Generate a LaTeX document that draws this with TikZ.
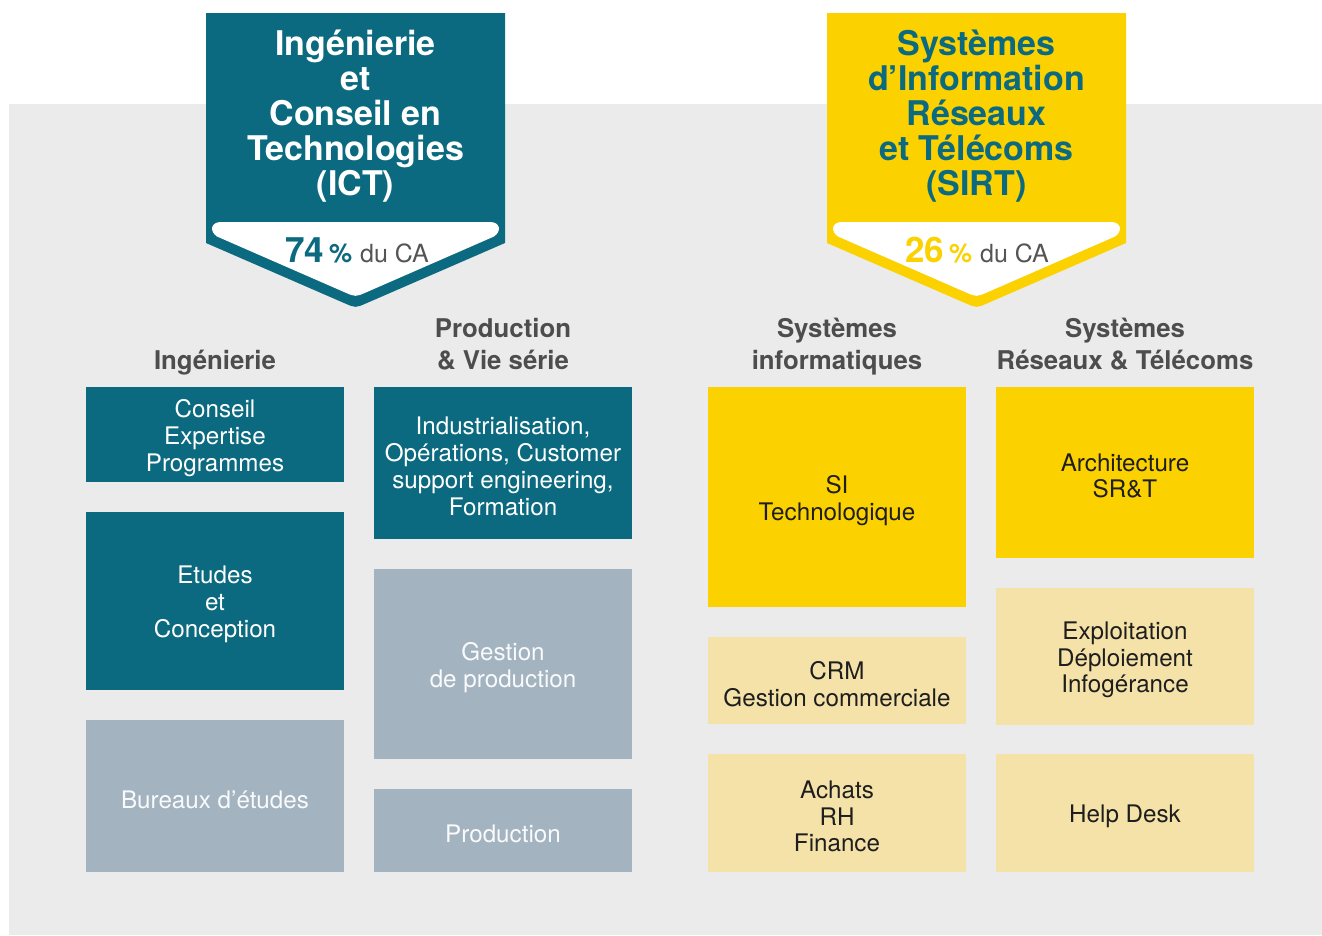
\documentclass[tikz,border=0pt]{standalone}
\usepackage{fontspec}
\setmainfont{TeX Gyre Heros}
\definecolor{ictteal}{HTML}{0B6A7F}
\definecolor{sirtyel}{HTML}{FCD100}
\definecolor{lightyel}{HTML}{F4E2A8}
\definecolor{grayblue}{HTML}{A3B3C0}
\definecolor{bggray}{HTML}{EBEBEB}
\definecolor{headgray}{HTML}{4D4D4D}
\definecolor{darktext}{HTML}{1E1E1E}
\definecolor{pctgray}{HTML}{555555}
\begin{document}
\begin{tikzpicture}[x=1pt,y=-1pt,
  cell/.style={rectangle, inner sep=0pt, outer sep=0pt, minimum width=258pt, align=center,
     font=\fontsize{24.2}{26.8}\selectfont},
  celltext/.style={inner sep=0pt, align=center, font=\fontsize{24.2}{26.8}\selectfont, yshift=-3.5pt},
  tealcell/.style={cell, fill=ictteal},
  graycell/.style={cell, fill=grayblue},
  yelcell/.style={cell, fill=sirtyel},
  lycell/.style={cell, fill=lightyel},
  header/.style={anchor=base, align=center, inner sep=0pt, text=headgray,
     font=\fontsize{25.8}{32}\selectfont\bfseries},
  titletext/.style={anchor=base, align=center, inner sep=0pt,
     font=\fontsize{34}{35}\selectfont\bfseries},
  pcttext/.style={anchor=base, inner sep=0pt}
]
\useasboundingbox (0,0) rectangle (1322,935);
\fill[white] (0,0) rectangle (1322,935);
\fill[bggray] (9,104) rectangle (1322,935);

% banners
\foreach \cx/\col in {355.5/ictteal, 976.5/sirtyel}{
  \begin{scope}[shift={(\cx,0)}]
    \fill[\col] (-149.5,13) -- (149.5,13) -- (149.5,243) -- (11,303.2)
      .. controls (0,308) .. (-11,303.2) -- (-149.5,243) -- cycle;
    \fill[white] (-134.5,222) -- (134.5,222) .. controls (144.5,222) and (146.5,231) .. (138.5,236.5)
      -- (11,292.2) .. controls (0,297) .. (-11,292.2) -- (-138.5,236.5)
      .. controls (-146.5,231) and (-144.5,222) .. (-134.5,222) -- cycle;
  \end{scope}
}

\node[titletext, text=white] (ict) at (355.5,195.5) {Ingénierie\\et\\Conseil en\\Technologies\\(ICT)};
\node[titletext, text=ictteal] (sirt) at (976.5,195.5) {Systèmes\\d’Information\\Réseaux\\et Télécoms\\(SIRT)};

\node[pcttext] (ictpct) at (357,262) {{\fontsize{35}{35}\selectfont\bfseries\color{ictteal}74}\hspace{5pt}{\fontsize{26}{26}\selectfont\bfseries\color{ictteal}\%}\hspace{8pt}{\fontsize{25}{25}\selectfont\color{pctgray}du CA}};
\node[pcttext] (sirtpct) at (977,262) {{\fontsize{35}{35}\selectfont\bfseries\color{sirtyel}26}\hspace{5pt}{\fontsize{26}{26}\selectfont\bfseries\color{sirtyel}\%}\hspace{8pt}{\fontsize{25}{25}\selectfont\color{pctgray}du CA}};

% headers
\node[header] (h1) at (215,369) {Ingénierie};
\node[header] (h2) at (503,369) {Production\\\& Vie série};
\node[header] (h3) at (837,369) {Systèmes\\informatiques};
\node[header] (h4) at (1125,369) {Systèmes\\Réseaux \& Télécoms};

% column 1
\node[tealcell, minimum height=95pt] (c11) at (215,434.5) {};
\node[celltext, text=white] (t11) at (c11.center) {Conseil\\Expertise\\Programmes};
\node[tealcell, minimum height=178pt] (c12) at (215,601) {};
\node[celltext, text=white] (t12) at (c12.center) {Etudes\\et\\Conception};
\node[graycell, minimum height=152pt] (c13) at (215,796) {};
\node[celltext, text=white!93!grayblue] (t13) at (c13.center) {Bureaux d’études};
% column 2
\node[tealcell, minimum height=152pt] (c21) at (503,463) {};
\node[celltext, text=white] (t21) at (c21.center) {Industrialisation,\\Opérations, Customer\\support engineering,\\Formation};
\node[graycell, minimum height=190pt] (c22) at (503,664) {};
\node[celltext, text=white!93!grayblue] (t22) at (c22.center) {Gestion\\de production};
\node[graycell, minimum height=83pt] (c23) at (503,830.5) {};
\node[celltext, text=white!93!grayblue] (t23) at (c23.center) {Production};
% column 3
\node[yelcell, minimum height=220pt] (c31) at (837,497) {};
\node[celltext, text=darktext] (t31) at (c31.center) {SI\\Technologique};
\node[lycell, minimum height=87pt] (c32) at (837,680.5) {};
\node[celltext, text=darktext] (t32) at (c32.center) {CRM\\Gestion commerciale};
\node[lycell, minimum height=118pt] (c33) at (837,813) {};
\node[celltext, text=darktext] (t33) at (c33.center) {Achats\\RH\\Finance};
% column 4
\node[yelcell, minimum height=171pt] (c41) at (1125,472.5) {};
\node[celltext, text=darktext] (t41) at (c41.center) {Architecture\\SR\&T};
\node[lycell, minimum height=137pt] (c42) at (1125,656.5) {};
\node[celltext, text=darktext] (t42) at (c42.center) {Exploitation\\Déploiement\\Infogérance};
\node[lycell, minimum height=118pt] (c43) at (1125,813) {};
\node[celltext, text=darktext] (t43) at (c43.center) {Help Desk};
\end{tikzpicture}
\end{document}
